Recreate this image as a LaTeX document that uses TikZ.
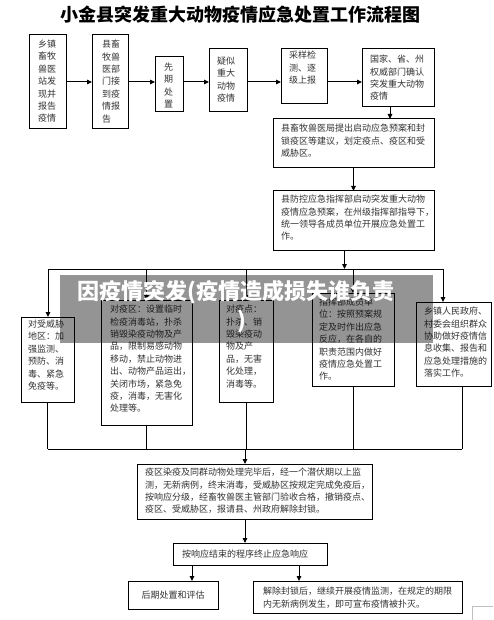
\documentclass[tikz,border=0pt]{standalone}
\usepackage{fontspec}
\newfontfamily\cjk{Noto Sans CJK SC}
\usetikzlibrary{arrows.meta,fit}
\newcommand\mybox[5]{\node[box, fit={(#2,#3) (#4,#5)}] (#1) {};}
\begin{document}
\begin{tikzpicture}[x=1pt,y=-1pt,
  every node/.style={inner sep=0pt, outer sep=0pt},
  box/.style={draw=black, line width=1pt, inner sep=0pt},
  txt/.style={font=\cjk\fontsize{9}{12.4}\selectfont, text=black!80, align=left, anchor=north west},
  arr/.style={line width=1pt, -{Triangle[length=5pt,width=4.5pt]}},
  ln/.style={line width=1pt}]
\useasboundingbox (0,0) rectangle (493,620);
\fill[white] (0,0) rectangle (493,620);

\node[font=\cjk\bfseries\fontsize{18}{18}\selectfont] (title) at (240,15) {小金县突发重大动物疫情应急处置工作流程图};

% top row
\mybox{b1}{29}{35}{66}{129}
\mybox{b2}{92}{35}{128}{129}
\mybox{b3}{155}{57}{183}{112}
\mybox{b4}{209}{49}{247}{112}
\mybox{b5}{281}{49}{327}{104}
\mybox{b6}{362}{49}{434}{107}
\node[txt] (t1) at (38,40) {乡镇\\畜牧\\兽医\\站发\\现并\\报告\\疫情};
\node[txt] (t2) at (102,40) {县畜\\牧兽\\医部\\门接\\到疫\\情报\\告};
\node[txt] (t3) at (164,63) {先\\期\\处\\置};
\node[txt] (t4) at (217,57) {疑似\\重大\\动物\\疫情};
\node[txt] (t5) at (289,51) {采样检\\测、逐\\级上报};
\node[txt] (t6) at (370,55) {国家、省、州\\权威部门确认\\突发重大动物\\疫情};

\mybox{b7}{273}{119}{434}{168}
\node[txt] (t7) at (281,124) {县畜牧兽医局提出启动应急预案和封\\锁疫区等建议，划定疫点、疫区和受\\威胁区。};
\mybox{b8}{273}{191}{434}{250}
\node[txt] (t8) at (281,195) {县防控应急指挥部启动突发重大动物\\疫情应急预案，在州级指挥部指导下，\\统一领导各成员单位开展应急处置工\\作。};

% middle row
\mybox{m1}{21}{317}{74}{402}
\mybox{m2}{101}{300}{192}{425}
\mybox{m3}{219}{300}{273}{402}
\mybox{m4}{312}{293}{394}{386}
\mybox{m5}{416}{302}{491}{386}
\node[txt] (tm1) at (28,320) {对受威胁\\地区：加\\强监测、\\预防、消\\毒、紧急\\免疫等。};
\node[txt] (tm2) at (110,305) {对疫区：设置临时\\检疫消毒站，扑杀\\销毁染疫动物及产\\品，限制易感动物\\移动，禁止动物进\\出、动物产品运出，\\关闭市场，紧急免\\疫，消毒，无害化\\处理等。};
\node[txt] (tm3) at (226,305) {对疫点：\\扑杀、销\\毁染疫动\\物及产\\品，无害\\化处理，\\消毒等。};
\node[txt] (tm4) at (319,298) {指挥部成员单\\位：按照预案规\\定及时作出应急\\反应，在各自的\\职责范围内做好\\疫情应急处置工\\作。};
\node[txt] (tm5) at (424,307) {乡镇人民政府、\\村委会组织群众\\协助做好疫情信\\息收集、报告和\\应急处理措施的\\落实工作。};

% bottom part
\mybox{b9}{137}{464}{372}{519}
\node[txt] (t9) at (145,468) {疫区染疫及同群动物处理完毕后，经一个潜伏期以上监\\测，无新病例，终末消毒，受威胁区按规定完成免疫后，\\按响应分级，经畜牧兽医主管部门验收合格，撤销疫点、\\疫区、受威胁区，报请县、州政府解除封锁。};
\mybox{b10}{173}{543}{327}{565}
\node[txt, anchor=west] (t10) at (182,554) {按响应结束的程序终止应急响应};
\mybox{b11}{128}{581}{218}{609}
\node[txt, anchor=center] (t11) at (b11.center) {后期处置和评估};
\mybox{b12}{253}{581}{462}{613}
\node[txt] (t12) at (263,587) {解除封锁后，继续开展疫情监测，在规定的期限\\内无新病例发生，即可宣布疫情被扑灭。};

% connectors top row
\draw[arr] (b1.east) -- (b2.west);
\draw[arr] (b2.east) -- (b2.east -| b3.west);
\draw[arr] (b2.east -| b3.east) -- (b2.east -| b4.west);
\draw[arr] (b2.east -| b4.east) -- (b2.east -| b5.west);
\draw[arr] (b2.east -| b5.east) -- (b2.east -| b6.west);
\coordinate (s6) at ([xshift=-8pt]b6.south);
\draw[arr] (s6) -- (s6 |- b7.north);
\draw[arr] (b7.south) -- (b8.north);

% top bus
\coordinate (tl) at (48,269);
\coordinate (tr) at (443,269);
\coordinate (s8) at ([xshift=-9pt]b8.south);
\draw[arr] (s8) -- (s8 |- tl);
\draw[ln] (tl) -- (tr);
\draw[arr] (tl) -- (tl |- m1.north);
\draw[arr] (m2.north |- tl) -- (m2.north);
\draw[arr] (m3.north |- tl) -- (m3.north);
\draw[arr] (m4.north |- tl) -- (m4.north);
\draw[arr] (tr) -- (tr |- m5.north);

% bottom bus
\coordinate (bl) at (48,449);
\coordinate (br) at (462,449);
\coordinate (bm) at (245,449);
\draw[ln] (m1.south) -- (m1.south |- bl);
\draw[ln] (m2.south) -- (m2.south |- bl);
\draw[ln] (m3.south) -- (m3.south |- bl);
\draw[ln] (m4.south) -- (m4.south |- bl);
\draw[ln] (br |- m5.south) -- (br);
\draw[ln] (bl) -- (br);
\draw[arr] (bm) -- (bm |- b9.north);
\draw[arr] (bm |- b9.south) -- (bm |- b10.north);
\coordinate (s11) at ([xshift=-58pt]b10.south);
\draw[arr] (s11) -- (s11 |- b11.north);
\coordinate (s12) at ([xshift=49pt]b10.south);
\draw[arr] (s12) -- (s12 |- b12.north);

% faint corner mark
\coordinate (c1) at (472,620);
\coordinate (c2) at (472,606);
\coordinate (c3) at (493,606);
\draw[black!25, line width=0.6pt] (c1) -- (c2) -- (c3);

% overlay banner
\node[fit={(60,275) (433,343)}, fill=black, fill opacity=0.42] (banner) {};
\node[font=\cjk\bfseries\fontsize{22}{29}\selectfont, text=white, align=center] (bannertext) at (236,307) {因疫情突发(疫情造成损失谁负责\\\hspace*{12pt})};
\end{tikzpicture}
\end{document}
